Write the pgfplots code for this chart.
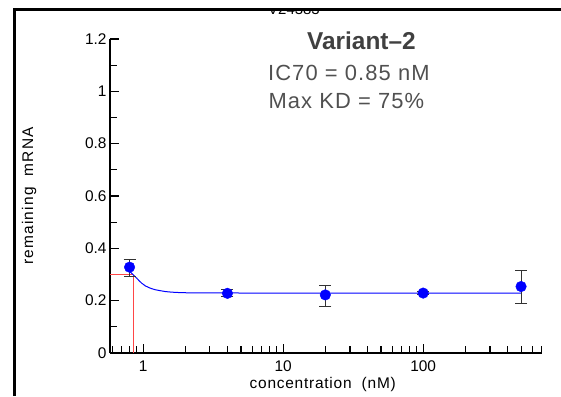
\documentclass[border=0pt]{standalone}
\usepackage{fontspec}
\setmainfont{Liberation Sans}
\usepackage{pgfplots}
\pgfplotsset{compat=1.18}
\definecolor{txtgray}{RGB}{80,80,80}
\definecolor{titlegray}{RGB}{64,64,64}
\definecolor{icred}{RGB}{255,70,70}
\definecolor{errgray}{RGB}{50,50,50}
\begin{document}
\begin{tikzpicture}[x=1bp,y=1bp]
\useasboundingbox (0,0) rectangle (561,396);
\begin{scope}
\clip (0,0) rectangle (561,385);
\node[anchor=base, inner sep=0pt, font=\fontsize{15}{18}\selectfont, text=black] at (294,382) {V24383};
\end{scope}
\draw[line width=2.5bp, black] (14.5,0) -- (14.5,386.5) -- (561,386.5);
\begin{axis}[
  at={(110bp,43bp)}, anchor=south west,
  scale only axis, width=431.5bp, height=314bp,
  xmode=log, xmin=0.58, xmax=700,
  ymin=0, ymax=1.2,
  ytick={0,0.2,0.4,0.6,0.8,1,1.2},
  minor y tick num=1,
  log ticks with fixed point,
  axis lines*=left,
  axis line style={-, line width=1.3bp},
  tick align=inside,
  major tick length=9bp, minor tick length=7bp,
  tick style={black, line width=1.1bp},
  tick label style={font=\fontsize{15.5}{18}\selectfont},
  /pgf/number format/assume math mode=true,
  xticklabel style={yshift=-4bp},
  xlabel={concentration\ \ (nM)},
  ylabel={remaining\ \ mRNA},
  xlabel style={at={(axis description cs:0.493,-0.1115)}, anchor=base, inner sep=0pt,
    font=\fontsize{15.5}{18}\selectfont\addfontfeatures{LetterSpace=5}},
  ylabel style={at={(axis description cs:-0.178,0.5)}, anchor=base, inner sep=0pt,
    font=\fontsize{15.5}{18}\selectfont\addfontfeatures{LetterSpace=8}},
  clip=false,
]
\addplot[draw=icred, line width=1.2bp, forget plot] coordinates {(0.58,0.3) (0.85,0.3)};
\addplot[draw=icred, line width=1.2bp, forget plot] coordinates {(0.85,0) (0.85,0.3)};
\addplot[blue, line width=1bp, forget plot] coordinates {
(0.80,0.312) (0.82,0.307) (0.85,0.299) (0.88,0.291) (0.90,0.286) (0.926,0.279)
(0.95,0.273) (0.98,0.266) (1.00,0.263) (1.033,0.257) (1.07,0.253) (1.10,0.250)
(1.15,0.246) (1.217,0.242) (1.30,0.239) (1.434,0.235) (1.60,0.2325) (1.78,0.2312)
(2.00,0.2303) (2.40,0.2298) (3.25,0.2295) (5,0.2293) (10,0.2292) (50,0.2292) (500,0.2292)
};
\addplot[only marks, mark=*, mark size=5.3bp, mark options={fill=blue, draw=blue},
  error bars/.cd, y dir=both, y explicit,
  error bar style={line width=1bp, errgray},
  error mark options={rotate=90, mark size=6bp, line width=1bp, errgray}]
coordinates {
(0.8,0.328) += (0,0.028) -= (0,0.036)
(4,0.228) +- (0,0.013)
(20,0.222) += (0,0.035) -= (0,0.045)
(100,0.229) +- (0,0.007)
(500,0.254) += (0,0.062) -= (0,0.065)
};
\node[anchor=base west, inner sep=0pt, text=titlegray,
  font=\fontsize{24.5}{28}\selectfont\bfseries] at (rel axis cs:0.4565,0.968) {Variant–2};
\node[anchor=base west, inner sep=0pt, text=txtgray,
  font=\fontsize{22}{26}\selectfont\addfontfeatures{LetterSpace=5}] at (rel axis cs:0.366,0.869) {IC70 = 0.85 nM};
\node[anchor=base west, inner sep=0pt, text=txtgray,
  font=\fontsize{22}{26}\selectfont\addfontfeatures{LetterSpace=5}] at (rel axis cs:0.367,0.780) {Max KD = 75\%};
\end{axis}
\end{tikzpicture}
\end{document}
